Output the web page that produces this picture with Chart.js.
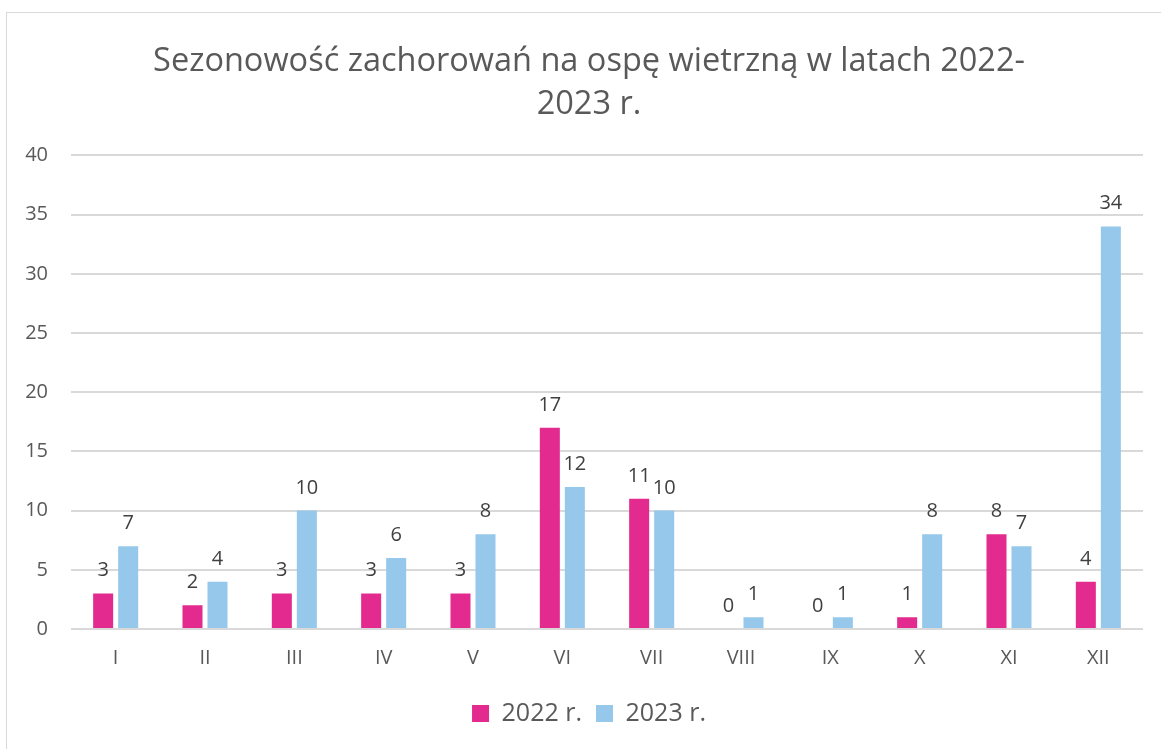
<!DOCTYPE html>
<html><head><meta charset="utf-8">
<script src="https://cdn.jsdelivr.net/npm/chart.js@4"></script>
<style>
html,body{margin:0;padding:0;background:#fff;width:1161px;height:749px;overflow:hidden}
#frame{position:absolute;left:6px;top:12px;width:1170px;height:760px;border:1px solid #d9d9d9;box-sizing:border-box}
canvas{position:absolute;left:0;top:0}
</style></head><body>
<div id="frame"></div>
<canvas id="c" width="1161" height="749"></canvas>
<script>
const categories = ['I','II','III','IV','V','VI','VII','VIII','IX','X','XI','XII'];
const values2022 = [3,2,3,3,3,17,11,0,0,1,8,4];
const values2023 = [7,4,10,6,8,12,10,1,1,8,7,34];
const seriesNames = ['2022 r.','2023 r.'];
const titleLines = ['Sezonowość zachorowań na ospę wietrzną w latach 2022-','2023 r.'];

const FONT = "'Open Sans', 'Noto Sans', sans-serif";

const dataLabels = {
  id: 'dataLabels',
  afterDatasetsDraw(chart) {
    const ctx = chart.ctx;
    ctx.save();
    ctx.font = '20px ' + FONT;
    ctx.fillStyle = '#404040';
    ctx.textAlign = 'center';
    ctx.textBaseline = 'alphabetic';
    chart.data.datasets.forEach((ds, i) => {
      chart.getDatasetMeta(i).data.forEach((bar, j) => {
        ctx.fillText(String(ds.data[j]), bar.x, bar.y - 17);
      });
    });
    ctx.restore();
  }
};

// let the y tick labels extend left of the (narrow) axis box without clipping
const noLabelClip = {
  id: 'noLabelClip',
  afterLayout(chart) {
    const y = chart.scales.y;
    if (y) y._computeLabelArea = function () { return undefined; };
  }
};

new Chart(document.getElementById('c'), {
  type: 'bar',
  data: {
    labels: categories,
    datasets: [
      { label: seriesNames[0], data: values2022, backgroundColor: '#E32A8E', borderWidth: 0 },
      { label: seriesNames[1], data: values2023, backgroundColor: '#95C8EA', borderWidth: 0 }
    ]
  },
  options: {
    responsive: false,
    animation: false,
    devicePixelRatio: 1,
    layout: { padding: { left: 35, right: 18, top: 0, bottom: 13 } },
    datasets: { bar: { categoryPercentage: 0.56, barPercentage: 0.8 } },
    plugins: {
      title: {
        display: true,
        text: titleLines,
        color: '#595959',
        font: { family: FONT, size: 32.5, weight: 'normal', lineHeight: 1.33 },
        padding: { top: 40, bottom: 29 }
      },
      legend: {
        position: 'bottom',
        labels: {
          color: '#595959',
          font: { family: FONT, size: 25 },
          boxWidth: 17, boxHeight: 17,
          padding: 14
        }
      },
      tooltip: { enabled: false }
    },
    scales: {
      x: {
        grid: { display: false, drawTicks: false },
        border: { display: false },
        ticks: { color: '#595959', font: { family: FONT, size: 20 }, padding: 17 }
      },
      y: {
        min: 0, max: 40,
        afterFit(s) { s.width = 36; },
        grid: { color: '#d9d9d9', lineWidth: 2, drawTicks: false },
        border: { display: false },
        ticks: { stepSize: 5, color: '#595959', font: { family: FONT, size: 20 }, padding: 23 }
      }
    }
  },
  plugins: [dataLabels, noLabelClip]
});
</script>
</body></html>
